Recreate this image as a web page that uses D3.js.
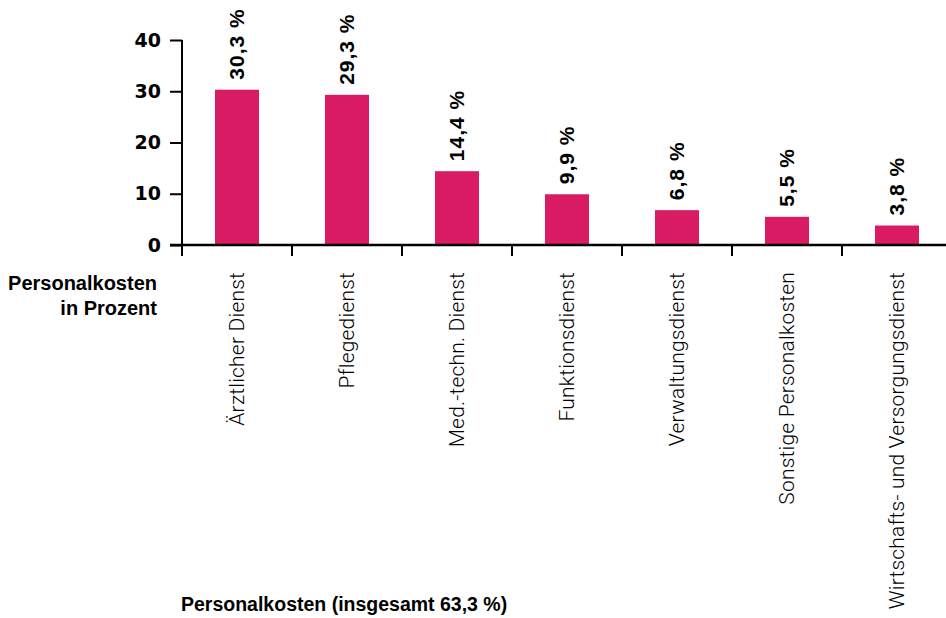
<!DOCTYPE html>
<html>
<head>
<meta charset="utf-8">
<script src="https://cdn.jsdelivr.net/npm/d3@7"></script>
<style>
  html, body { margin: 0; padding: 0; background: #fff; }
  svg { display: block; }
</style>
</head>
<body>
<svg id="chart" width="946" height="618"></svg>
<script>
// Personnel cost shares by service area (percent)
const categories = [
  "Ärztlicher Dienst",
  "Pflegedienst",
  "Med.-techn. Dienst",
  "Funktionsdienst",
  "Verwaltungsdienst",
  "Sonstige Personalkosten",
  "Wirtschafts- und Versorgungsdienst"
];
const values = [30.3, 29.3, 14.4, 9.9, 6.8, 5.5, 3.8];
const yTicks = [0, 10, 20, 30, 40];
const yTitle = ["Personalkosten", "in Prozent"];
const xTitle = "Personalkosten (insgesamt 63,3 %)";

const svg = d3.select("#chart");
const barColor = "#d81b62";
const fmt = v => v.toFixed(1).replace(".", ",") + " %";
const boldFont = "'Liberation Sans', Arial, sans-serif";

const x = d3.scaleBand()
  .domain(categories)
  .range([182, 952])
  .paddingInner(0)
  .paddingOuter(0);

const y = d3.scaleLinear()
  .domain([0, 40])
  .range([245, 40]);

// bars
svg.append("g")
  .selectAll("rect")
  .data(values)
  .join("rect")
  .attr("x", (d, i) => x(categories[i]) + x.bandwidth() * 0.3)
  .attr("width", x.bandwidth() * 0.4)
  .attr("y", d => y(d))
  .attr("height", d => y(0) - y(d))
  .attr("fill", barColor);

// y axis
const yAxis = svg.append("g")
  .attr("transform", "translate(182,0)")
  .call(d3.axisLeft(y).tickValues(yTicks).tickSize(12).tickPadding(9).tickFormat(d3.format("d")));
yAxis.select(".domain").attr("d", "M0,40V245").attr("stroke", "#000").attr("stroke-width", 2);
yAxis.selectAll(".tick line").attr("stroke", "#000").attr("stroke-width", 2);
yAxis.selectAll(".tick text")
  .attr("fill", "#000")
  .style("font-family", "'DejaVu Sans', sans-serif")
  .style("font-weight", "bold")
  .style("font-size", "19px");

// x axis: baseline and band-boundary ticks
const xAxis = svg.append("g").attr("transform", `translate(0,${y(0)})`);
xAxis.append("line")
  .attr("x1", 170).attr("x2", 946)
  .attr("stroke", "#000").attr("stroke-width", 2.5);
xAxis.selectAll("line.tick")
  .data(categories)
  .join("line")
  .attr("class", "tick")
  .attr("x1", d => x(d)).attr("x2", d => x(d))
  .attr("y1", 0).attr("y2", 11)
  .attr("stroke", "#000").attr("stroke-width", 2);

// category labels, rotated
svg.append("g")
  .selectAll("text")
  .data(categories)
  .join("text")
  .attr("transform", d => `translate(${x(d) + x.bandwidth() / 2},272) rotate(-90)`)
  .attr("text-anchor", "end")
  .attr("dy", "0.35em")
  .style("font-family", "Roboto, sans-serif")
  .style("font-weight", "300")
  .style("font-size", "21px")
  .style("letter-spacing", "0.2px")
  .attr("fill", "#000")
  .text(d => d);

// value labels above bars
svg.append("g")
  .selectAll("text")
  .data(values)
  .join("text")
  .attr("transform", (d, i) => `translate(${x(categories[i]) + x.bandwidth() / 2},${y(d) - 10}) rotate(-90)`)
  .attr("text-anchor", "start")
  .attr("dy", "0.35em")
  .style("font-family", boldFont)
  .style("font-weight", "bold")
  .style("font-size", "21px")
  .style("letter-spacing", "1px")
  .attr("fill", "#000")
  .text(d => fmt(d));

// y title
svg.append("text")
  .attr("text-anchor", "end")
  .style("font-family", boldFont)
  .style("font-weight", "bold")
  .style("font-size", "20px")
  .selectAll("tspan")
  .data(yTitle)
  .join("tspan")
  .attr("x", 157)
  .attr("y", (d, i) => 290 + i * 25)
  .text(d => d);

// x title
svg.append("text")
  .attr("x", 181)
  .attr("y", 611)
  .style("font-family", boldFont)
  .style("font-weight", "bold")
  .style("font-size", "19.5px")
  .text(xTitle);
</script>
</body>
</html>
